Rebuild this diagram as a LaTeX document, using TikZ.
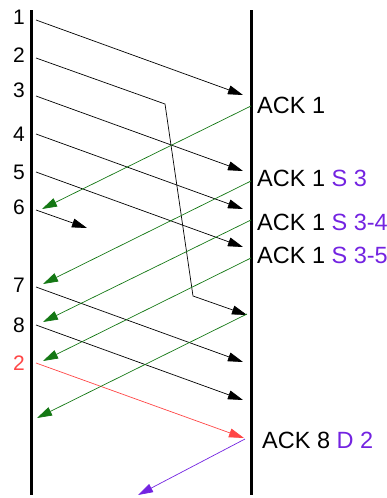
\documentclass[tikz,border=0pt]{standalone}
\usepackage{fontspec}
\setmainfont{Liberation Sans}
\usetikzlibrary{positioning,arrows.meta,calc}
\definecolor{ackgreen}{RGB}{20,120,20}
\definecolor{lossred}{RGB}{255,70,70}
\definecolor{sackpurple}{RGB}{115,35,225}
\tikzset{
  seq/.style={font=\fontsize{21}{24}\selectfont,inner sep=0pt},
  ack/.style={font=\fontsize{23.5}{27}\selectfont,inner sep=0pt,anchor=base west},
  host/.style={line width=3pt},
  pkt/.style={-{Triangle[length=15pt,width=9pt]},line width=0.7pt},
  ackln/.style={pkt,ackgreen},
}
\begin{document}
\begin{tikzpicture}[x=1pt,y=-1pt]
\useasboundingbox (0,0) rectangle (386,498);

% the two hosts
\coordinate (ltop) at (31.5,10);
\coordinate (lbot) at (31.5,495);
\coordinate (rtop) at (251,10);
\coordinate (rbot) at (251,495);
\draw[host] (ltop) -- (lbot);
\draw[host] (rtop) -- (rbot);

% sequence numbers
\node[seq] (n1) at (19,17.5)  {1};
\node[seq] (n2) at (19,55.5)  {2};
\node[seq] (n3) at (19,90.5)  {3};
\node[seq] (n4) at (19,134.5) {4};
\node[seq] (n5) at (19,172)   {5};
\node[seq] (n6) at (19,207.5) {6};
\node[seq] (n7) at (19,285.5) {7};
\node[seq] (n8) at (19,325)   {8};
\node[seq,text=lossred] (r2) at (19,363.5) {2};

% acknowledgements
\node[ack] (a1)  at (257,113) {ACK 1};
\node[ack] (a13) at (257,186) {ACK 1 \textcolor{sackpurple}{S 3}};
\node[ack] (a14) at (257,230) {ACK 1 \textcolor{sackpurple}{S 3-4}};
\node[ack] (a15) at (257,263) {ACK 1 \textcolor{sackpurple}{S 3-5}};
\node[ack] (a8)  at (262,448) {ACK 8 \textcolor{sackpurple}{D 2}};

% packet end points
\coordinate (p1s) at (36,20);   \coordinate (p1e) at (243,95);
\coordinate (p2s) at (36,58);   \coordinate (p2a) at (165,104);
\coordinate (p2b) at (193,296); \coordinate (p2e) at (247,315);
\coordinate (p3s) at (36,96);   \coordinate (p3e) at (243,171);
\coordinate (p4s) at (36,134);  \coordinate (p4e) at (243,209);
\coordinate (p5s) at (36,172);  \coordinate (p5e) at (243,247);
\coordinate (p6s) at (36,210);  \coordinate (p6e) at (87,228);
\coordinate (p7s) at (36,287);  \coordinate (p7e) at (243,362);
\coordinate (p8s) at (36,325);  \coordinate (p8e) at (243,400);
\coordinate (r2s) at (36,363);  \coordinate (r2e) at (244,438);

% ack end points
\coordinate (k1s) at (251,106); \coordinate (k1e) at (42,209);
\coordinate (k2s) at (251,181); \coordinate (k2e) at (43,284);
\coordinate (k3s) at (251,220); \coordinate (k3e) at (43,322);
\coordinate (k4s) at (251,258); \coordinate (k4e) at (43,361);
\coordinate (k5s) at (247,314); \coordinate (k5e) at (37,418);
\coordinate (k6s) at (245,439); \coordinate (k6e) at (138,495);

% data
\draw[pkt] (p1s) -- (p1e);
\draw[pkt] (p2s) -- (p2a) -- (p2b) -- (p2e);
\draw[pkt] (p3s) -- (p3e);
\draw[pkt] (p4s) -- (p4e);
\draw[pkt] (p5s) -- (p5e);
\draw[pkt] (p6s) -- (p6e);
\draw[pkt] (p7s) -- (p7e);
\draw[pkt] (p8s) -- (p8e);
\draw[pkt,lossred] (r2s) -- (r2e);

% acks
\draw[ackln] (k1s) -- (k1e);
\draw[ackln] (k2s) -- (k2e);
\draw[ackln] (k3s) -- (k3e);
\draw[ackln] (k4s) -- (k4e);
\draw[ackln] (k5s) -- (k5e);
\draw[pkt,sackpurple] (k6s) -- (k6e);

\end{tikzpicture}
\end{document}
